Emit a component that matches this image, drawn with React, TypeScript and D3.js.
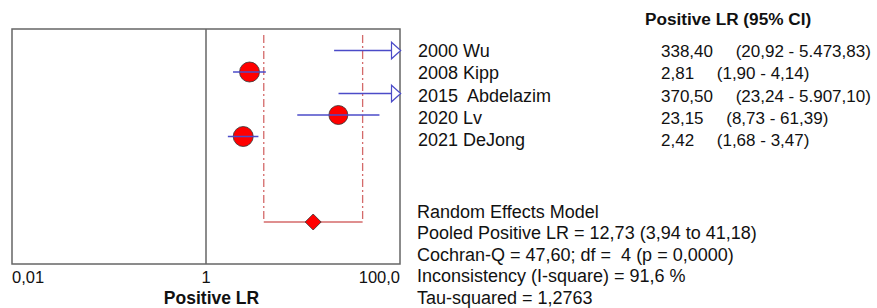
import React from "react";
import * as d3 from "d3";

const studies = ["2000 Wu", "2008 Kipp", "2015  Abdelazim", "2020 Lv", "2021 DeJong"];
const estimates = [338.4, 2.81, 370.5, 23.15, 2.42];
const lowers = [20.92, 1.9, 23.24, 8.73, 1.68];
const uppers = [5473.83, 4.14, 5907.1, 61.39, 3.47];
const weights = [17.0, 21.6, 17.0, 19.5, 21.6];
const estLabels = ["338,40", "2,81", "370,50", "23,15", "2,42"];
const ciLabels = ["(20,92 - 5.473,83)", "(1,90 - 4,14)", "(23,24 - 5.907,10)", "(8,73 - 61,39)", "(1,68 - 3,47)"];
const pooled = { est: 12.73, lo: 3.94, hi: 41.18 };
const tickValues = [0.01, 1, 100];
const tickLabels = ["0,01", "1", "100,0"];
const summaryLines = [
  "Random Effects Model",
  "Pooled Positive LR = 12,73 (3,94 to 41,18)",
  "Cochran-Q = 47,60; df =  4 (p = 0,0000)",
  "Inconsistency (I-square) = 91,6 %",
  "Tau-squared = 1,2763",
];

export default function App() {
  const W = 877, H = 308;
  const left = 12, right = 400, top = 29, bottom = 264;
  const x = d3.scaleLog().domain([0.01, 100]).range([left, right]);
  const rowY = (i: number) => 50.5 + i * 21.5;
  const r = d3.scaleSqrt().domain([0, 21.6]).range([0, 10]);
  const pooledY = 222;
  const blue = "#4b4bc8";
  const red = "#d46a6a";
  const font = "Arial, 'Liberation Sans', sans-serif";

  return (
    <svg width={W} height={H} style={{ position: "absolute", left: 0, top: 0, background: "#fff" }} fontFamily={font}>
      <rect x={0} y={0} width={W} height={H} fill="#fff" />
      {/* plot box */}
      <rect x={left} y={top} width={right - left} height={bottom - top} fill="none" stroke="#666" strokeWidth={1.5} />
      <line x1={x(1)} x2={x(1)} y1={top} y2={bottom} stroke="#666" strokeWidth={1.5} />

      {/* pooled CI dashed lines */}
      {[pooled.lo, pooled.hi].map((v, i) => (
        <line key={i} x1={x(v)} x2={x(v)} y1={35} y2={pooledY} stroke={red} strokeWidth={1.3} strokeDasharray="8,3,2,3" />
      ))}
      <line x1={x(pooled.lo)} x2={x(pooled.hi)} y1={pooledY} y2={pooledY} stroke={red} strokeWidth={1.3} />
      <path
        d={`M${x(pooled.est) - 8},${pooledY} L${x(pooled.est)},${pooledY - 8} L${x(pooled.est) + 8},${pooledY} L${x(pooled.est)},${pooledY + 8} Z`}
        fill="#ff0000" stroke="#333" strokeWidth={0.8}
      />

      {/* studies */}
      {studies.map((s, i) => {
        const y = rowY(i);
        const overflow = uppers[i] > 100;
        const x1 = x(lowers[i]);
        const x2 = overflow ? right - 8.5 : x(uppers[i]);
        return (
          <g key={s}>
            {estimates[i] <= 100 && (
              <circle cx={x(estimates[i])} cy={y} r={r(weights[i])} fill="#ff0000" stroke="#333" strokeWidth={0.8} />
            )}
            <line x1={x1} x2={x2} y1={y} y2={y} stroke={blue} strokeWidth={1.5} />
            {overflow && (
              <path d={`M${right - 8.5},${y - 8.3} L${right + 0.7},${y} L${right - 8.5},${y + 8.3} Z`} fill="#fff" stroke={blue} strokeWidth={1.2} />
            )}
          </g>
        );
      })}

      {/* axis labels */}
      {tickValues.map((v, i) => (
        <text key={v} x={i === 0 ? left : i === 2 ? right : x(v)} y={283} fontSize={16.5}
          textAnchor={i === 0 ? "start" : i === 2 ? "end" : "middle"} fill="#111">
          {tickLabels[i]}
        </text>
      ))}
      <text x={211.5} y={304} fontSize={17.5} fontWeight="bold" textAnchor="middle" fill="#111">Positive LR</text>

      {/* right text */}
      <text x={645} y={25} fontSize={17.2} fontWeight="bold" fill="#111">Positive LR (95% CI)</text>
      {studies.map((s, i) => (
        <g key={"t" + i} fill="#111">
          <text x={418} y={57 + i * 22.3} fontSize={18} style={{ whiteSpace: "pre" }}>{s}</text>
          <text x={661} y={57 + i * 22.3} fontSize={17}>
            <tspan>{estLabels[i]}</tspan>
            <tspan dx={22.7}>{ciLabels[i]}</tspan>
          </text>
        </g>
      ))}
      {summaryLines.map((l, i) => (
        <text key={"s" + i} x={417} y={217.5 + i * 21.5} fontSize={18} fill="#111" style={{ whiteSpace: "pre" }}>{l}</text>
      ))}
    </svg>
  );
}
